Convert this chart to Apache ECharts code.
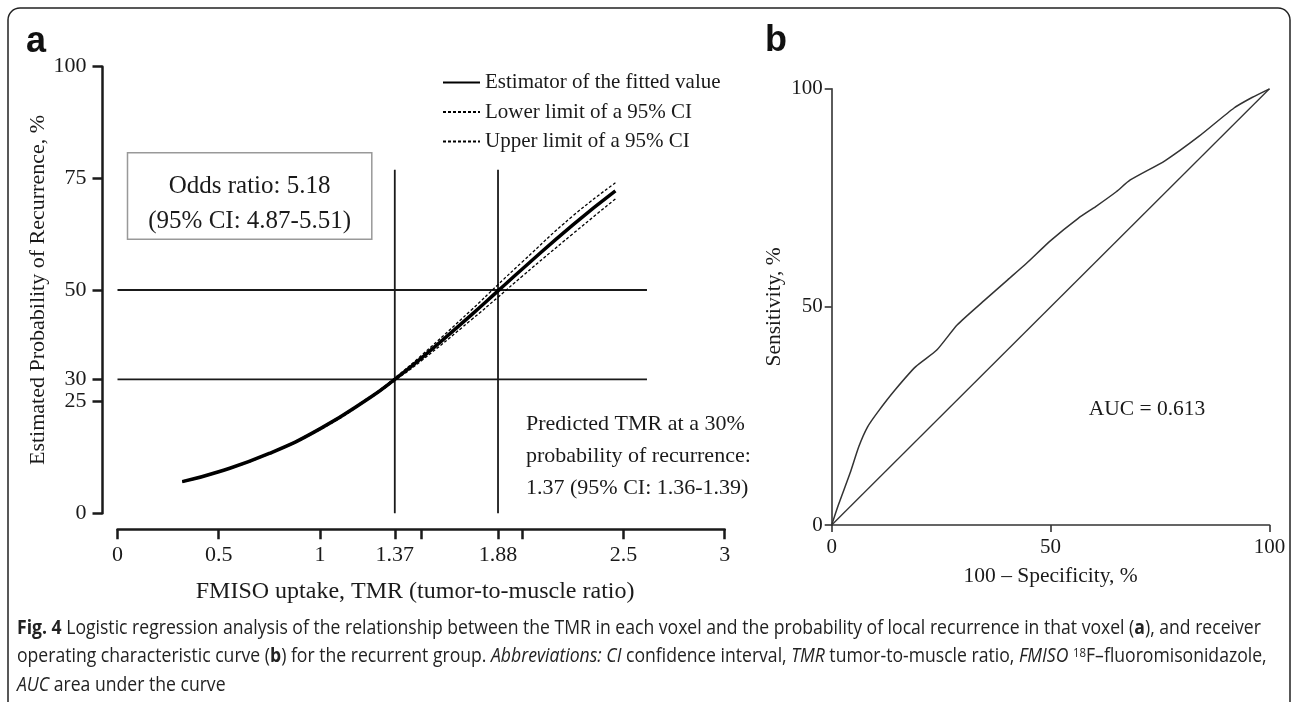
<!DOCTYPE html>
<html><head><meta charset="utf-8">
<script src="https://cdn.jsdelivr.net/npm/echarts@6/dist/echarts.min.js"></script>
<style>html,body{margin:0;padding:0;background:#fff}#c{width:1292px;height:702px}</style>
</head><body><div id="c"></div>
<script>
// ---- Panel a: logistic regression ----
const tmrX      = [0.32, 0.5, 0.75, 1.0, 1.25, 1.37, 1.5, 1.75, 1.88, 2.0, 2.25, 2.46];
const fittedPct = [7.1, 9.3, 13.4, 18.9, 26.0, 30.0, 34.7, 44.5, 49.8, 54.7, 64.6, 72.2];
const lowerPct  = [7.0, 9.2, 13.3, 18.7, 25.8, 29.7, 34.1, 43.4, 48.4, 53.1, 62.6, 70.4];
const upperPct  = [7.2, 9.4, 13.5, 19.1, 26.2, 30.3, 35.3, 45.6, 51.2, 56.3, 66.6, 74.0];
const xTickValues  = [0, 0.5, 1, 1.37, 1.5, 1.88, 2, 2.5, 3];
const xLabelValues = [0, 0.5, 1, 1.37, 1.88, 2.5, 3];
const yTickValues  = [0, 25, 30, 50, 75, 100];
const refProb = [30, 50];        // horizontal reference lines (%)
const refProbEnd = 2.616;        // TMR where they stop
const refTmr = [1.37, 1.88];     // vertical reference lines (TMR)
const refTmrTop = 76.9;          // % where they stop
// ---- Panel b: ROC curve ----
const rocFpr = [0, 1.5, 4.2, 6.2, 8.2, 10.6, 14.5, 19.2, 24.0, 28.7, 35.0, 40.2, 44.5, 50.0, 56.3, 60.3, 65.0, 68.2, 76.1, 84.0, 91.9, 96.0, 100];
const rocTpr = [0, 4.5, 11.9, 18.0, 22.5, 26.0, 31.0, 36.3, 40.1, 45.9, 51.6, 56.2, 60.0, 65.2, 70.3, 73.0, 76.4, 79.1, 83.5, 89.2, 95.6, 98.0, 100];
const diagonal = [0, 100];
const rocTicks = [0, 50, 100];

const SERIF = 'Liberation Serif, Times New Roman, serif';
const INK = '#1a1a1a';
const chart = echarts.init(document.getElementById('c'), null, {renderer: 'canvas'});

const zip = (xs, ys) => xs.map((x, i) => [x, ys[i]]);
const refSeries = [];
refProb.forEach(p => refSeries.push({type: 'line', xAxisIndex: 0, yAxisIndex: 0, data: [[0, p], [refProbEnd, p]],
  symbol: 'none', silent: true, lineStyle: {color: INK, width: 1.8}, z: 1}));
refTmr.forEach(t => refSeries.push({type: 'line', xAxisIndex: 0, yAxisIndex: 0, data: [[t, 0], [t, refTmrTop]],
  symbol: 'none', silent: true, lineStyle: {color: INK, width: 1.8}, z: 1}));

const axA = {
  axisLine: {onZero: false, lineStyle: {color: INK, width: 2.5}},
  axisTick: {length: 10, lineStyle: {color: INK, width: 2.5}},
  axisLabel: {color: INK, fontFamily: SERIF, fontSize: 22},
  splitLine: {show: false},
  nameTextStyle: {color: INK, fontFamily: SERIF, fontSize: 22}
};
const axB = {
  axisLine: {onZero: false, lineStyle: {color: '#333', width: 1.6}},
  axisTick: {length: 7, lineStyle: {color: '#333', width: 1.6}},
  axisLabel: {color: INK, fontFamily: SERIF, fontSize: 21},
  splitLine: {show: false},
  nameTextStyle: {color: INK, fontFamily: SERIF, fontSize: 21.5}
};

function captionText(y, rich, text) {
  return {type: 'text', x: 17, y: y, scaleX: 0.88, silent: true,
    style: {text: text, rich: rich, fontFamily: 'Open Sans, sans-serif', fontSize: 20, fill: '#222', verticalAlign: 'middle', align: 'left'}};
}
const capRich = {
  b: {fontFamily: 'Open Sans, sans-serif', fontSize: 20, fontWeight: 'bold', fill: '#222'},
  i: {fontFamily: 'Open Sans, sans-serif', fontSize: 20, fontStyle: 'italic', fill: '#222'},
  n: {fontFamily: 'Open Sans, sans-serif', fontSize: 20, fill: '#222'},
  sup: {fontFamily: 'Open Sans, sans-serif', fontSize: 13, fill: '#222', verticalAlign: 'top'}
};

const option = {
  backgroundColor: '#fff',
  animation: false,
  grid: [
    {left: 117.5, top: 66.7, width: 607.2, height: 446.6, outerBoundsMode: 'none'},
    {left: 831.7, top: 88.8, width: 437.8, height: 436.2, outerBoundsMode: 'none'}
  ],
  xAxis: [
    Object.assign({}, axA, {type: 'value', gridIndex: 0, min: 0, max: 3, offset: 16,
      axisTick: Object.assign({}, axA.axisTick, {customValues: xTickValues}),
      axisLabel: Object.assign({}, axA.axisLabel, {customValues: xLabelValues, margin: 15}),
      name: 'FMISO uptake, TMR (tumor-to-muscle ratio)', nameLocation: 'middle', nameGap: 50,
      nameTextStyle: Object.assign({}, axA.nameTextStyle, {fontSize: 24, padding: [0, 12, 0, 0]})}),
    Object.assign({}, axB, {type: 'value', gridIndex: 1, min: 0, max: 100, interval: 50,
      axisTick: Object.assign({}, axB.axisTick, {customValues: rocTicks}),
      axisLabel: Object.assign({}, axB.axisLabel, {customValues: rocTicks, margin: 12}),
      name: '100 \u2013 Specificity, %', nameLocation: 'middle', nameGap: 40})
  ],
  yAxis: [
    Object.assign({}, axA, {type: 'value', gridIndex: 0, min: 0, max: 100, offset: 15,
      axisTick: Object.assign({}, axA.axisTick, {customValues: yTickValues}),
      axisLabel: Object.assign({}, axA.axisLabel, {customValues: yTickValues, margin: 16}),
      name: 'Estimated Probability of Recurrence, %', nameLocation: 'middle', nameGap: 52}),
    Object.assign({}, axB, {type: 'value', gridIndex: 1, min: 0, max: 100, interval: 50,
      axisTick: Object.assign({}, axB.axisTick, {customValues: rocTicks}),
      axisLabel: Object.assign({}, axB.axisLabel, {customValues: rocTicks, margin: 9}),
      name: 'Sensitivity, %', nameLocation: 'middle', nameGap: 46})
  ],
  legend: {
    orient: 'vertical', left: 442, top: 72, padding: 0, itemWidth: 37, itemHeight: 14, itemGap: 8.5,
    itemStyle: {opacity: 0},
    data: ['Estimator of the fitted value', 'Lower limit of a 95% CI', 'Upper limit of a 95% CI'],
    textStyle: {color: INK, fontFamily: SERIF, fontSize: 21},
    selectedMode: false
  },
  series: refSeries.concat([
    {name: 'Estimator of the fitted value', type: 'line', xAxisIndex: 0, yAxisIndex: 0,
      data: zip(tmrX, fittedPct), smooth: true, symbol: 'none', itemStyle: {color: '#000'},
      lineStyle: {color: '#000', width: 3.5}, z: 5},
    {name: 'Lower limit of a 95% CI', type: 'line', xAxisIndex: 0, yAxisIndex: 0,
      data: zip(tmrX, lowerPct), smooth: true, symbol: 'none', itemStyle: {color: '#000'},
      lineStyle: {color: '#000', width: 1.3, type: [3, 2]}, z: 4},
    {name: 'Upper limit of a 95% CI', type: 'line', xAxisIndex: 0, yAxisIndex: 0,
      data: zip(tmrX, upperPct), smooth: true, symbol: 'none', itemStyle: {color: '#000'},
      lineStyle: {color: '#000', width: 1.3, type: [3, 2]}, z: 4},
    {name: 'ROC', type: 'line', xAxisIndex: 1, yAxisIndex: 1, data: zip(rocFpr, rocTpr), smooth: 0.2,
      symbol: 'none', lineStyle: {color: '#333', width: 1.5}},
    {name: 'Chance', type: 'line', xAxisIndex: 1, yAxisIndex: 1, data: zip(diagonal, diagonal),
      symbol: 'none', lineStyle: {color: '#333', width: 1.3}}
  ]),
  graphic: [
    {type: 'rect', silent: true, shape: {x: 8, y: 8, width: 1282, height: 712, r: 12},
      style: {fill: 'none', stroke: '#222', lineWidth: 1.5}},
    {type: 'text', x: 26, y: 42, silent: true, style: {text: 'a', fontFamily: 'Liberation Sans, Arial, sans-serif', fontWeight: 'bold', fontSize: 36, fill: '#111', verticalAlign: 'middle'}},
    {type: 'text', x: 765, y: 41, silent: true, style: {text: 'b', fontFamily: 'Liberation Sans, Arial, sans-serif', fontWeight: 'bold', fontSize: 36, fill: '#111', verticalAlign: 'middle'}},
    {type: 'rect', silent: true, shape: {x: 127.5, y: 152.7, width: 244.3, height: 86.6},
      style: {fill: '#fff', stroke: '#999', lineWidth: 1.5}, z: 10},
    {type: 'text', x: 249.6, y: 186, silent: true, z: 11, style: {text: 'Odds ratio: 5.18', fontFamily: SERIF, fontSize: 25, fill: INK, align: 'center', verticalAlign: 'middle'}},
    {type: 'text', x: 249.6, y: 221, silent: true, z: 11, style: {text: '(95% CI: 4.87-5.51)', fontFamily: SERIF, fontSize: 25, fill: INK, align: 'center', verticalAlign: 'middle'}},
    {type: 'text', x: 526, y: 424, silent: true, style: {text: 'Predicted TMR at a 30%', fontFamily: SERIF, fontSize: 22, fill: INK, verticalAlign: 'middle'}},
    {type: 'text', x: 526, y: 456, silent: true, style: {text: 'probability of recurrence:', fontFamily: SERIF, fontSize: 22, fill: INK, verticalAlign: 'middle'}},
    {type: 'text', x: 526, y: 488, silent: true, style: {text: '1.37 (95% CI: 1.36-1.39)', fontFamily: SERIF, fontSize: 22, fill: INK, verticalAlign: 'middle'}},
    {type: 'text', x: 1088.7, y: 409, silent: true, style: {text: 'AUC = 0.613', fontFamily: SERIF, fontSize: 21.5, fill: INK, verticalAlign: 'middle'}},
    captionText(628, capRich, '{b|Fig. 4}{n| Logistic regression analysis of the relationship between the TMR in each voxel and the probability of local recurrence in that voxel (}{b|a}{n|), and receiver}'),
    captionText(656.5, capRich, '{n|operating characteristic curve (}{b|b}{n|) for the recurrent group. }{i|Abbreviations: CI}{n| confidence interval, }{i|TMR}{n| tumor-to-muscle ratio, }{i|FMISO}{n| }{sup|18}{n|F\u2013fluoromisonidazole,}'),
    captionText(685, capRich, '{i|AUC}{n| area under the curve}')
  ]
};
chart.setOption(option);
</script></body></html>
